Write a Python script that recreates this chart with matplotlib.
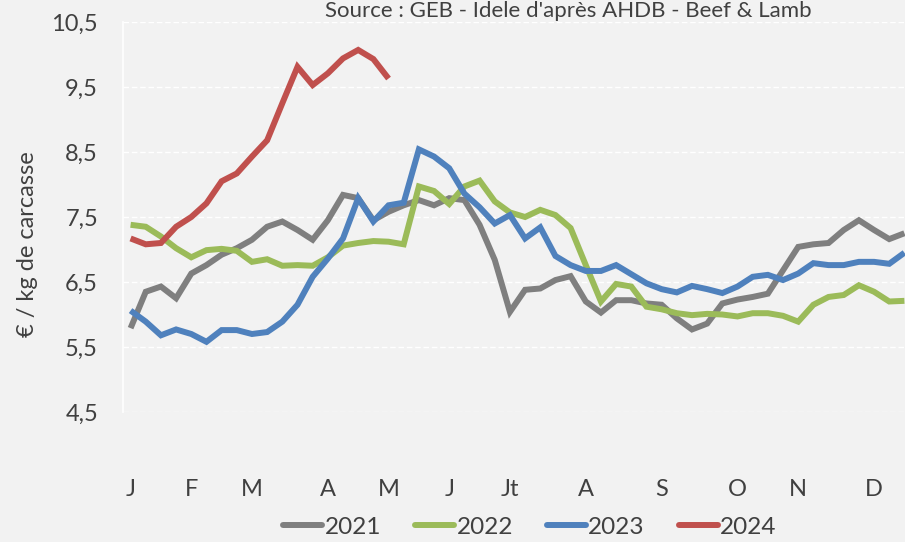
import matplotlib
matplotlib.use("Agg")
import matplotlib.pyplot as plt
import numpy as np

plt.rcParams['font.family'] = ['Lato', 'DejaVu Sans']

years = ["2021", "2022", "2023", "2024"]
colors = ["#7F7F7F", "#9BBB59", "#4F81BD", "#C0504D"]

s2021 = [5.79, 6.35, 6.43, 6.25, 6.63, 6.76, 6.92, 7.02, 7.15, 7.35,
         7.43, 7.30, 7.15, 7.45, 7.84, 7.79, 7.45, 7.58, 7.68, 7.76,
         7.68, 7.79, 7.76, 7.38, 6.84, 6.04, 6.38, 6.40, 6.53, 6.59,
         6.20, 6.03, 6.22, 6.22, 6.17, 6.15, 5.94, 5.77, 5.86, 6.17,
         6.23, 6.27, 6.32, 6.68, 7.04, 7.08, 7.10, 7.30, 7.45, 7.30,
         7.16, 7.25]
s2022 = [7.38, 7.35, 7.20, 7.02, 6.88, 6.99, 7.01, 6.98, 6.81, 6.85,
         6.75, 6.76, 6.75, 6.88, 7.06, 7.10, 7.13, 7.12, 7.08, 7.97,
         7.90, 7.70, 7.97, 8.06, 7.74, 7.57, 7.50, 7.61, 7.53, 7.33,
         6.76, 6.20, 6.47, 6.43, 6.12, 6.08, 6.02, 5.99, 6.01, 6.00,
         5.97, 6.02, 6.02, 5.98, 5.89, 6.15, 6.27, 6.30, 6.45, 6.35,
         6.20, 6.21]
s2023 = [6.06, 5.89, 5.68, 5.77, 5.70, 5.58, 5.76, 5.76, 5.70, 5.73,
         5.89, 6.15, 6.58, 6.86, 7.17, 7.79, 7.43, 7.68, 7.72, 8.54,
         8.43, 8.25, 7.86, 7.65, 7.40, 7.53, 7.17, 7.34, 6.90, 6.76,
         6.67, 6.67, 6.76, 6.62, 6.48, 6.39, 6.34, 6.44, 6.39, 6.33,
         6.43, 6.58, 6.61, 6.53, 6.63, 6.79, 6.76, 6.76, 6.81, 6.81,
         6.78, 6.95]
s2024 = [7.17, 7.08, 7.10, 7.35, 7.50, 7.71, 8.05, 8.17, 8.43, 8.68,
         9.25, 9.81, 9.53, 9.71, 9.94, 10.07, 9.93, 9.63]

month_labels = ["J", "F", "M", "A", "M", "J", "Jt", "A", "S", "O", "N", "D"]
month_weeks = [0, 4, 8, 13, 17, 21, 25, 30, 35, 40, 44, 49]
y_ticks = [4.5, 5.5, 6.5, 7.5, 8.5, 9.5, 10.5]

title = "Source : GEB - Idele d'après AHDB - Beef & Lamb"
ylabel = "€ / kg de carcasse"

W, H = 905, 542
fig = plt.figure(figsize=(W / 100, H / 100), dpi=100)
bg = "#F2F2F2"
fig.patch.set_facecolor(bg)

left, right, top, bottom = 123, 912, 22, 412
ax = fig.add_axes([left / W, 1 - bottom / H, (right - left) / W, (bottom - top) / H])
ax.set_facecolor(bg)

series = [s2021, s2022, s2023, s2024]
for name, col, s in zip(years, colors, series):
    ax.plot(np.arange(len(s)), s, color=col, lw=4.3, label=name,
            solid_joinstyle='miter', solid_capstyle='butt')

ax.set_xlim(-0.5, 51.5)
ax.set_ylim(4.5, 10.5)
ax.set_yticks(y_ticks)
ax.set_yticklabels([f"{v:.1f}".replace(".", ",") for v in y_ticks])
ax.set_xticks(month_weeks)
ax.set_xticklabels(month_labels)
ax.tick_params(axis='both', length=0, labelsize=17, labelcolor="#404040")
ax.tick_params(axis='y', pad=18)
ax.tick_params(axis='x', pad=48)

for v in y_ticks:
    ax.axhline(v, color="white", lw=1.0, ls=(0, (4, 2)), zorder=0)
for sp in ["top", "right", "bottom"]:
    ax.spines[sp].set_visible(False)
ax.spines["left"].set_color("white")
ax.spines["left"].set_linewidth(1.2)

fig.text(28 / W, 1 - 244 / H, ylabel, rotation=90, ha='center', va='center',
         fontsize=17, color="#404040")
fig.text(568 / W, 1 - 1 / H, title, ha='center', va='top',
         fontsize=16, color="#404040")

leg = fig.legend(loc='center', bbox_to_anchor=(530 / W, 1 - 527 / H), ncol=4,
                 frameon=False, fontsize=17.5, handlelength=1.6, handletextpad=0.1,
                 columnspacing=1.4, labelcolor="#404040")
for h in leg.legend_handles:
    h.set_solid_capstyle('round')

fig.savefig("out.png", dpi=100, facecolor=bg)
